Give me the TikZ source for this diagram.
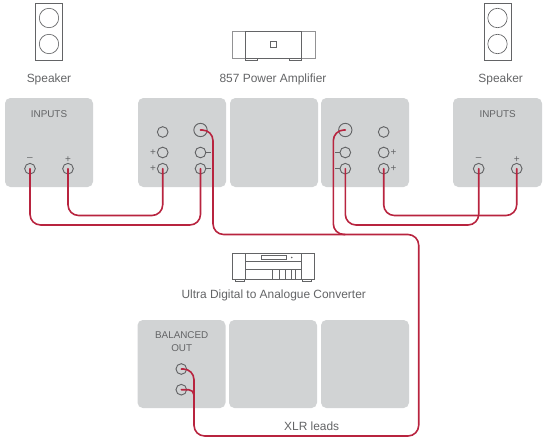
\documentclass[tikz,border=0pt]{standalone}
\usepackage{fontspec}
\setmainfont{Liberation Sans}
\definecolor{panelgrey}{HTML}{D1D3D4}
\definecolor{wirered}{HTML}{B8243F}
\definecolor{inkgrey}{HTML}{636466}
\tikzset{
  panel/.style={fill=panelgrey,rounded corners=4},
  port/.style={circle,draw=inkgrey,line width=0.7pt,minimum size=8pt,inner sep=0pt},
  bigport/.style={port,minimum size=10pt},
  wire/.style={draw=wirered,line width=1.2pt,rounded corners=8pt,line cap=round},
  kit/.style={draw=inkgrey,line width=0.5pt},
  lab/.style={text=inkgrey,font=\fontsize{8.95}{11}\selectfont,inner sep=0pt},
  small/.style={text=inkgrey,font=\fontsize{7.4}{9.6}\selectfont,inner sep=0pt,align=center},
  sign/.style={text=inkgrey,font=\fontsize{7.5}{9}\selectfont,inner sep=0pt},
}
\begin{document}
\begin{tikzpicture}[x=0.75pt,y=-0.75pt]
\useasboundingbox (0,0) rectangle (550,446);
% panels
\foreach \xa/\xb/\ya/\yb in {5/93/98/187,138/226/98/187,230/318/98/187,321/409/98/187,453/542/98/187,137.5/225.5/320/408,229/317/320/408,321/409/320/408}
  \fill[panel] (\xa,\ya) rectangle (\xb,\yb);
% speakers
\foreach \c in {49,497.5}{
  \draw[kit] (\c-13.5,3.5) rectangle (\c+13.5,60.5);
  \draw[kit] (\c,18) circle (9.7);
  \draw[kit] (\c,44) circle (9.7);
}
% amplifier
\draw[kit,draw=inkgrey!70] (232,31) rectangle (315,58);
\draw[kit] (245,31) rectangle (301.5,58);
\draw[kit] (245,58) -- (245,60.5) -- (257,60.5) -- (257,58);
\draw[kit] (289,58) -- (289,60.5) -- (301.5,60.5) -- (301.5,58);
\draw[kit] (270.3,41) rectangle (276.3,47.3);
% converter
\draw[kit] (232.3,253) rectangle (314.7,279);
\draw[kit] (245.7,253) -- (245.7,279) (301.7,253) -- (301.7,279);
\draw[kit] (245.7,261.3) -- (301.7,261.3) (245.7,269.7) -- (301.7,269.7);
\draw[kit] (261,255.7) rectangle (286.7,259.7);
\fill[inkgrey] (291.7,257.5) circle (0.8);
\foreach \x in {272.7,279.3,285.7,291,295.7} \draw[kit] (\x,269.7) -- (\x,279);
\draw[kit] (235.7,279) rectangle (244.3,281);
\draw[kit] (302,279) rectangle (311.7,281);
% texts
\node[lab] (spkL) at (49,79) {Speaker};
\node[lab] (amp) at (273,79) {857 Power Amplifier};
\node[lab] (spkR) at (500.7,79) {Speaker};
\node[small] (inL) at (49,114) {INPUTS};
\node[small] (inR) at (497.7,114) {INPUTS};
\node[lab] (dac) at (273.7,295) {Ultra Digital to Analogue Converter};
\node[small] (bal) at (181.7,341.5) {BALANCED\\OUT};
\node[lab] (xlr) at (311.7,426) {XLR leads};
% ports
\node[port] (a1) at (30,168.7) {};
\node[port] (a2) at (68,168.7) {};
\node[port] (b1) at (162.7,132) {};
\node[port] (b2) at (162.7,152.5) {};
\node[port] (b3) at (162.7,168.7) {};
\node[bigport] (c1) at (200.5,130) {};
\node[port] (c2) at (200.5,152.5) {};
\node[port] (c3) at (200.5,168.7) {};
\node[bigport] (d1) at (345.3,130) {};
\node[port] (d2) at (345.3,152.5) {};
\node[port] (d3) at (345.3,168.7) {};
\node[port] (e1) at (383.7,132) {};
\node[port] (e2) at (383.7,152.5) {};
\node[port] (e3) at (383.7,168.7) {};
\node[port] (f1) at (478.7,168.7) {};
\node[port] (f2) at (516.7,168.7) {};
\node[port] (g1) at (181.3,369) {};
\node[port] (g2) at (181.3,389.7) {};
% signs
\node[sign] (s1) at (30,159.5) {–};
\node[sign] (s2) at (68,159.5) {+};
\node[sign] (s3) at (478.7,159.5) {–};
\node[sign] (s4) at (516.7,159.5) {+};
\node[sign] (s5) at (153,152.5) {+};
\node[sign] (s6) at (153,168.7) {+};
\node[sign] (s7) at (393.5,152.5) {+};
\node[sign] (s8) at (393.5,168.7) {+};
\draw[kit] (c2.east) -- ++(5,0) (c3.east) -- ++(5,0) (d2.west) -- ++(-5,0) (d3.west) -- ++(-5,0);
% wires
\draw[wire] (a2.center) -- (68,215.5) -- (162.7,215.5) -- (b3.center);
\draw[wire] (a1.center) -- (30,225) -- (200.5,225) -- (c3.center);
\draw[wire] (d3.center) -- (345.3,225) -- (478.7,225) -- (f1.center);
\draw[wire] (e3.center) -- (383.7,215.5) -- (516.7,215.5) -- (f2.center);
\coordinate (hub) at (345,234.5);
\draw[wire] (d1.center) -- (333.3,130) -- (333.3,234.5) -- (hub);
\draw[wire] (c1.center) -- (213,130) -- (213,234.5) -- (418.7,234.5) -- (418.7,436) -- (194,436) -- (194,369) -- (g1.center);
\draw[wire,rounded corners=4pt] (g2.center) -- (194,389.7) -- (194,400);
\end{tikzpicture}
\end{document}
